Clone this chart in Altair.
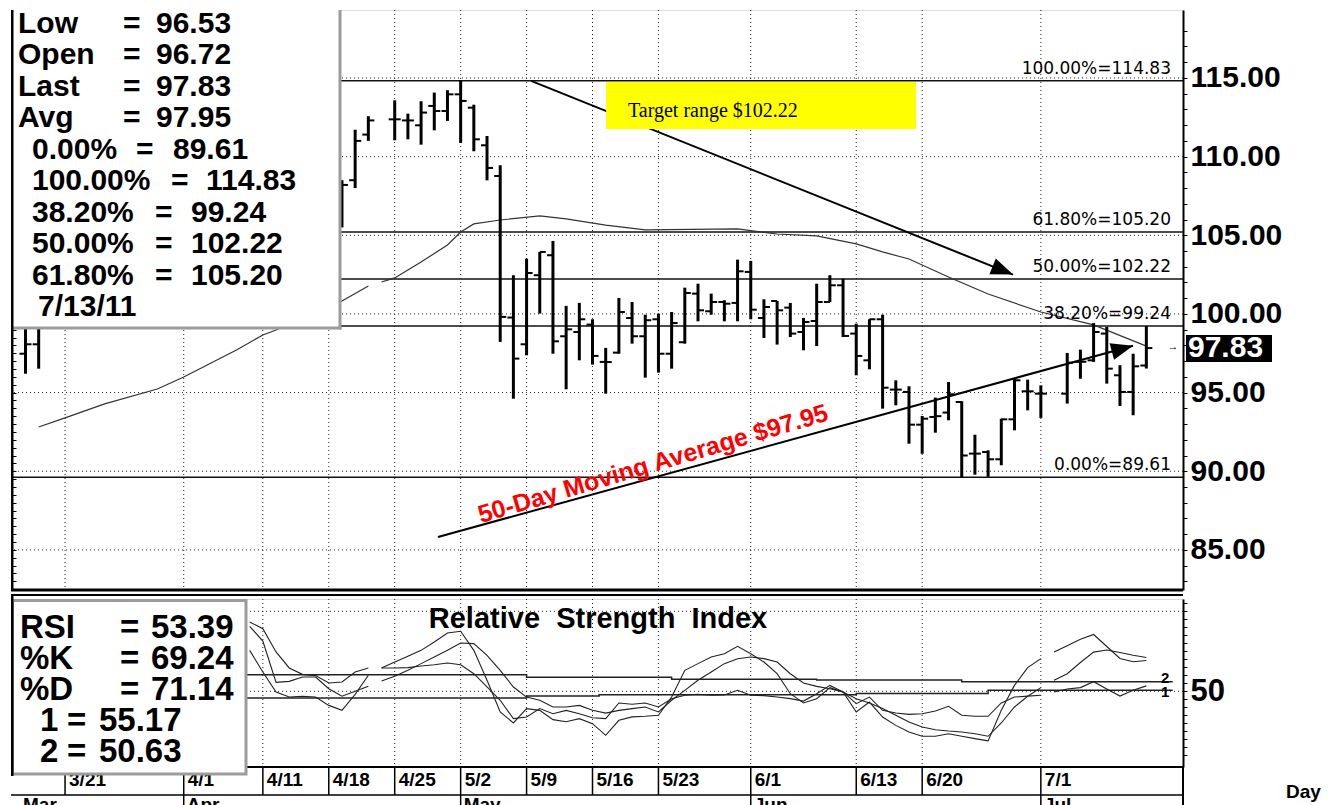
import altair as alt
import pandas as pd

FONT = "Liberation Sans, Arial, Helvetica, sans-serif"
SERIF = "Liberation Serif, Times New Roman, serif"

# ---------------- price bars (x = trading-day slot, 3/21 = 0) ----------------
bar_slot = [-3, -2, 21, 22, 23,
            25, 26, 27, 28, 29, 30, 31, 32, 33, 34, 35, 36, 37, 38, 39, 40, 41, 42, 43, 44,
            45, 46, 47, 48, 49, 50, 51, 52, 53, 54, 55, 56, 57, 58, 59, 60, 61, 62, 63, 64,
            65, 66, 67, 68, 69, 70, 71, 72, 73, 74,
            76, 77, 78, 79, 80, 81, 82]
bar_open = [97.47, 98.07, 107.0, 108.5, 111.4,
            112.37, 112.3, 111.99, 113.22, 112.90, 113.96, 113.11, 110.72, 108.77, 99.77, 98.07, 102.46, 103.73, 98.58, 98.85, 99.32, 96.95, 97.54, 99.74, 98.58,
            99.66, 97.47, 98.2, 101.29, 100.17, 100.76, 100.70, 102.67, 99.74, 100.82, 100.40, 98.85, 99.55, 100.76, 101.82, 98.75, 97.05, 99.66, 95.19, 95.04,
            92.96, 93.45, 93.73, 94.40, 91.12, 91.22, 90.76, 93.30, 95.08, 94.93,
            94.93, 96.95, 97.05, 98.75, 96.10, 95.04, 96.72]
bar_high = [99.6, 99.6, 108.5, 111.71, 112.57,
            113.58, 112.73, 113.52, 114.07, 114.22, 114.83, 113.30, 111.31, 109.45, 102.46, 103.51, 103.94, 104.64, 100.51, 100.70, 99.66, 97.84, 101.01, 100.76, 99.95,
            100.02, 100.12, 101.67, 101.92, 101.29, 100.87, 103.45, 103.37, 100.93, 100.82, 100.70, 99.74, 101.92, 102.46, 102.24, 99.38, 99.66, 99.95, 95.78, 95.40,
            93.51, 94.68, 95.67, 94.45, 92.32, 91.33, 93.34, 95.88, 95.82, 95.46,
            97.52, 97.73, 99.42, 99.17, 96.74, 97.47, 99.23]
bar_low = [96.2, 96.52, 105.5, 108.0, 111.0,
           111.04, 111.10, 110.76, 111.67, 112.27, 110.87, 110.34, 108.49, 98.22, 94.61, 97.37, 100.02, 97.47, 95.21, 97.05, 96.78, 94.93, 97.47, 98.11, 95.95,
           96.27, 96.52, 98.11, 99.53, 99.95, 99.53, 99.53, 99.66, 98.47, 98.05, 98.53, 97.69, 97.96, 100.76, 98.53, 96.10, 96.48, 93.98, 94.19, 91.75,
           91.11, 92.45, 93.24, 89.61, 89.78, 89.65, 90.38, 92.60, 93.87, 93.39,
           94.30, 95.88, 96.95, 95.57, 94.15, 93.56, 96.53]
bar_close = [98.07, 99.4, 108.2, 111.0, 112.3,
             112.37, 112.3, 112.80, 112.90, 113.96, 113.54, 111.10, 109.28, 99.81, 97.16, 102.60, 103.94, 98.26, 99.02, 99.66, 97.33, 96.94, 100.12, 98.58, 99.60,
             97.47, 99.42, 101.33, 100.23, 100.76, 100.65, 102.71, 100.27, 100.44, 100.23, 98.75, 99.49, 100.76, 101.82, 98.6, 97.33, 99.66, 95.31, 95.19, 92.96,
             93.34, 93.5, 94.89, 91.0, 91.12, 90.76, 93.30, 95.78, 95.08, 94.93,
             96.90, 96.96, 98.85, 96.52, 95.04, 96.67, 97.83]

# ---------------- 50-day moving average ----------------
ma_seg = [0] * 10 + [1] * 22
ma_slot = [-2, 0, 3, 7, 9, 13, 15, 16, 21, 23,
           24, 25, 27, 29, 30, 31, 33, 36, 38, 41, 44, 51, 54, 57, 60, 62, 64, 67, 70, 74, 78, 82]
ma_value = [92.81, 93.39, 94.28, 95.23, 95.99, 97.71, 98.66, 98.98, 100.82, 101.78,
            102.03, 102.29, 103.30, 104.38, 105.21, 105.72, 105.97, 106.23, 106.04, 105.65, 105.34,
            105.40, 105.08, 104.96, 104.45, 103.94, 103.49, 102.35, 101.27, 100.12, 99.30, 97.95]

# ---------------- Fibonacci levels ----------------
fib_label = ["100.00%=114.83", "61.80%=105.20", "50.00%=102.22", "38.20%=99.24", "0.00%=89.61"]
fib_level = [114.83, 105.20, 102.22, 99.24, 89.61]

# ---------------- annotations ----------------
arrow_id = ["a", "a", "b", "b"]
arrow_slot = [35.34, 71.89, 28.28, 80.99]
arrow_price = [114.81, 102.50, 85.82, 97.98]
target_box = dict(x1=[41.03], x2=[64.53], y1=[114.75], y2=[111.76])
target_text = dict(slot=[42.69], price=[112.52], label=["Target range $102.22"])
ma_text = dict(slot=[44.59], price=[90.46], label=["50-Day Moving Average $97.95"])

# ---------------- axes / labels ----------------
price_grid = [85, 90, 95, 100, 105, 110, 115]
date_slot = [0, 9, 15, 20, 25, 30, 35, 40, 45, 52, 60, 65, 74]
date_label = ["3/21", "4/1", "4/11", "4/18", "4/25", "5/2", "5/9", "5/16", "5/23", "6/1", "6/13", "6/20", "7/1"]
month_slot = [9, 30, 52, 74]
month_label = ["Apr", "May", "Jun", "Jul"]

info_label = ["Low", "Open", "Last", "Avg", "0.00%", "100.00%", "38.20%", "50.00%", "61.80%", "7/13/11"]
info_value = ["96.53", "96.72", "97.83", "97.95", "89.61", "114.83", "99.24", "102.22", "105.20", ""]

# ---------------- oscillators (RSI panel) ----------------
osc_s1 = [14, 15, 16, 17, 18, 19, 20, 21, 22, 23]
osc_s2 = [24, 25, 26, 27, 28, 29, 30, 31, 32, 33, 34, 35, 36, 37, 38, 39, 40, 41, 42, 43, 44, 45, 46, 47, 48, 49,
          50, 51, 52, 53, 54, 55, 56, 57, 58, 59, 60, 61, 62, 63, 64, 65, 66, 67, 68, 69, 70, 71, 72, 73, 74]
osc_s3 = [75, 76, 77, 78, 79, 80, 81, 82]
pk_s1 = [93.3, 89.1, 74.6, 64.6, 60.6, 59.8, 55.2, 55.8, 62.1, 64.6]
pd_s1 = [90.6, 81.4, 55.6, 56.2, 58.9, 58.9, 51.6, 46.9, 50.0, 53.1]
rsi_s1 = [75.6, 62.1, 49.6, 46.4, 46.9, 46.4, 41.2, 38.1, 48.1, 60.0]
pk_s2 = [64.6, 68.3, 71.9, 75.6, 80.8, 86.4, 87.5, 75.6, 56.9, 37.1, 30.2, 39.2, 38.1, 32.3, 31.0, 32.9, 29.8, 22.5, 31.9, 34.0,
         34.4, 35.0, 46.4, 63.1, 67.3, 71.4, 73.5, 78.1, 73.5, 68.3, 61.0, 48.5, 42.7, 45.4, 52.3, 49.6, 37.1, 43.3, 33.9, 28.7,
         24.6, 21.9, 21.9, 23.5, 21.9, 20.4, 19.0, 38.1, 53.7, 64.8, 70.4]
pd_s2 = [56.4, 59.4, 63.1, 67.3, 71.4, 75.6, 80.2, 79.8, 72.5, 63.1, 52.7, 46.4, 44.4, 40.2, 40.2, 41.2, 38.1, 36.4, 38.1, 39.2,
         40.2, 37.1, 44.4, 50.6, 56.9, 62.1, 67.3, 70.4, 71.4, 70.4, 68.3, 61.0, 55.2, 53.1, 51.6, 49.6, 45.4, 42.7, 39.2, 35.0,
         30.8, 27.7, 26.0, 25.2, 24.6, 23.5, 21.9, 30.2, 40.2, 46.9, 52.3]
rsi_s2 = [64.6, 64.6, 64.8, 65.8, 66.6, 67.7, 66.6, 61.0, 52.7, 44.4, 32.9, 33.9, 39.2, 36.0, 38.1, 36.0, 33.5, 32.9, 42.7, 41.9,
          42.7, 40.2, 45.4, 47.5, 48.1, 47.5, 47.7, 50.6, 47.5, 47.3, 46.4, 45.4, 43.9, 48.5, 53.7, 49.6, 42.3, 46.4, 38.1, 36.4,
          35.6, 36.0, 37.7, 40.6, 35.0, 34.4, 34.4, 42.7, 46.4, 47.0, 47.5]
pk_s3 = [74.6, 78.5, 82.5, 85.5, 78.0, 70.5, 68.5, 69.24]
pd_s3 = [56.9, 61.0, 68.0, 74.5, 75.8, 74.2, 72.5, 71.14]
rsi_s3 = [49.6, 51.4, 52.3, 56.0, 51.5, 47.0, 50.6, 53.39]

avg1_slot = [-4.0, 35, 46, 57, 68, 84.0]
avg1_value = [60.4, 58.8, 57.6, 57.0, 55.9, 55.9]
avg2_slot = [-4.0, 35, 40.5, 60, 70, 84.0]
avg2_value = [45.8, 47.1, 47.9, 48.6, 50.6, 50.6]

osc_label = ["RSI", "%K", "%D", "1", "2"]
osc_value = ["53.39", "69.24", "71.14", "55.17", "50.63"]

# ================= scales =================
xs = alt.Scale(domain=[-4.099, 84.78], nice=False, zero=False)
ys = alt.Scale(domain=[82.45, 119.32], nice=False, zero=False)
ys2 = alt.Scale(domain=[2.69, 107.69], nice=False, zero=False)


def X(f):
    return alt.X(f, type="quantitative", scale=xs, axis=None)


def YP(f, axis=None):
    return alt.Y(f, type="quantitative", scale=ys, axis=axis)


def YR(f, axis=None):
    return alt.Y(f, type="quantitative", scale=ys2, axis=axis)


one = pd.DataFrame({"k": [0]})


def ptext(s, x, y, size=30, weight="bold", align="left", baseline="alphabetic", color="black", font=FONT):
    return alt.Chart(one).mark_text(text=s, fontSize=size, fontWeight=weight, align=align,
                                    baseline=baseline, color=color, font=font).encode(
        x=alt.value(x), y=alt.value(y))


def prule(x, x2, y, y2, color="black", width=1.0):
    return alt.Chart(one).mark_rule(color=color, strokeWidth=width).encode(
        x=alt.value(x), x2=alt.value(x2), y=alt.value(y), y2=alt.value(y2))


right_axis = alt.Axis(orient="right", values=list(range(83, 119)),
                      labelExpr="datum.value % 5 == 0 ? format(datum.value, '.2f') : ''",
                      tickSize=4, labelPadding=3, labelFont=FONT, labelFontSize=30, labelFontWeight="bold",
                      labelColor="black", tickColor="black", domainColor="black", domainWidth=2,
                      grid=False, title=None, labelOverlap=False, labelBound=False, labelFlush=False)
left_axis = alt.Axis(orient="left", values=[83 + 0.5 * i for i in range(73)], labels=False, domain=False,
                     tickSize=5, offset=-5, tickColor="black", grid=False, title=None)
rsi_axis = alt.Axis(orient="right", values=list(range(10, 106, 5)),
                    labelExpr="datum.value == 50 ? '50' : ''", tickSize=4, labelPadding=3,
                    labelFont=FONT, labelFontSize=31, labelFontWeight="bold", labelColor="black",
                    tickColor="black", domainColor="black", domainWidth=2, grid=False, title=None,
                    labelOverlap=False, labelBound=False, labelFlush=False)

DOT = [1, 3]

# ================= top panel =================
bars = pd.DataFrame(dict(slot=bar_slot, open=bar_open, high=bar_high, low=bar_low, close=bar_close))
ma = pd.DataFrame(dict(seg=ma_seg, slot=ma_slot, ma=ma_value))
fib = pd.DataFrame(dict(label=fib_label, level=fib_level, slot=[83.87] * 5))
pgrid = pd.DataFrame(dict(p=price_grid))
dgrid = pd.DataFrame(dict(slot=date_slot, label=date_label))
mgrid = pd.DataFrame(dict(slot=month_slot, label=month_label))
arrows = pd.DataFrame(dict(arrow=arrow_id, slot=arrow_slot, price=arrow_price))

HEAD = "M0,0L-2.2,-0.85L-2.2,0.85Z"

top_layers = [
    alt.Chart(pgrid).mark_rule(color="#222", strokeDash=DOT, strokeWidth=1).encode(y=YP("p")),
    alt.Chart(dgrid).mark_rule(color="#222", strokeDash=DOT, strokeWidth=1).encode(x=X("slot")),
    alt.Chart(fib).mark_rule(color="#111", strokeWidth=1.5).encode(y=YP("level", left_axis)),
    alt.Chart(ma).mark_line(color="#333", strokeWidth=1.2).encode(x=X("slot"), y=YP("ma"), detail="seg:N"),
    alt.Chart(bars).mark_rule(color="black", strokeWidth=3).encode(x=X("slot"), y=YP("low", right_axis), y2="high"),
    alt.Chart(bars).mark_rule(color="black", strokeWidth=2, xOffset=-6, x2Offset=0).encode(
        x=X("slot"), x2="slot", y=YP("open")),
    alt.Chart(bars).mark_rule(color="black", strokeWidth=2, xOffset=0, x2Offset=6).encode(
        x=X("slot"), x2="slot", y=YP("close")),
    alt.Chart(arrows).mark_line(color="black", strokeWidth=2).encode(x=X("slot"), y=YP("price"), detail="arrow:N"),
    alt.Chart(arrows.iloc[[1]]).mark_point(shape=HEAD, filled=True, size=400, angle=21.9, color="black",
                                           opacity=1, strokeWidth=0).encode(x=X("slot"), y=YP("price")),
    alt.Chart(arrows.iloc[[3]]).mark_point(shape=HEAD, filled=True, size=400, angle=344.6, color="black",
                                           opacity=1, strokeWidth=0).encode(x=X("slot"), y=YP("price")),
    alt.Chart(pd.DataFrame(target_box)).mark_rect(color="#ffff00").encode(
        x=X("x1"), x2="x2", y=YP("y1"), y2="y2"),
    alt.Chart(pd.DataFrame(target_text)).mark_text(align="left", baseline="alphabetic", font=SERIF,
                                                  fontSize=20, color="black").encode(
        x=X("slot"), y=YP("price"), text="label"),
    alt.Chart(pd.DataFrame(ma_text)).mark_text(align="center", baseline="middle", font=FONT, fontSize=25,
                                              fontWeight="bold", color="#ff0000", angle=343.5).encode(
        x=X("slot"), y=YP("price"), text="label"),
    alt.Chart(fib).mark_text(align="right", baseline="alphabetic", dy=-7, font="DejaVu Sans", fontSize=17,
                             color="black").encode(x=X("slot"), y=YP("level"), text="label"),
    alt.Chart(pd.DataFrame(dict(p=[97.9]))).mark_text(text="\u2192", fontSize=11, color="black", font=FONT).encode(
        x=alt.value(1162), y=YP("p")),
    alt.Chart(pd.DataFrame(dict(a=[98.66], b=[96.95]))).mark_rect(color="black").encode(
        x=alt.value(1175), x2=alt.value(1261), y=YP("a"), y2="b"),
    alt.Chart(pd.DataFrame(dict(p=[97.83]))).mark_text(text="97.83", align="left", baseline="middle",
                                                       font=FONT, fontSize=30, fontWeight="bold",
                                                       color="white").encode(x=alt.value(1177), y=YP("p")),
    # info box
    alt.Chart(one).mark_rect(color="white").encode(x=alt.value(0), x2=alt.value(329),
                                                   y=alt.value(0), y2=alt.value(318)),
    prule(329, 329, 0, 319.5, color="#9c9c9c", width=3),
    prule(0, 330.5, 318, 318, color="#9c9c9c", width=3),
    prule(1.25, 1.25, 0, 580, color="black", width=2.5),
    prule(0, 1172, 580, 580, color="black", width=3),
]

row_y = [23, 54, 86, 117, 149, 180, 212, 243, 275, 306]
lab_x = [7, 7, 7, 7, 21, 21, 21, 21, 21, 27]
eq_x = [112, 112, 112, 112, 125, 160, 144, 144, 144, None]
val_x = [145, 145, 145, 145, 162, 195, 180, 180, 180, None]
for i in range(10):
    top_layers.append(ptext(info_label[i], lab_x[i], row_y[i]))
    if eq_x[i] is not None:
        top_layers.append(ptext("=", eq_x[i], row_y[i]))
        top_layers.append(ptext(info_value[i], val_x[i], row_y[i]))

top = alt.layer(*top_layers).resolve_axis(y="independent").properties(width=1172, height=580)

# ================= RSI panel =================
osc_rows = []
for name, segs in (("K", (pk_s1, pk_s2, pk_s3)), ("D", (pd_s1, pd_s2, pd_s3)), ("R", (rsi_s1, rsi_s2, rsi_s3))):
    for sn, (sl, vals) in enumerate(zip((osc_s1, osc_s2, osc_s3), segs)):
        for s, v in zip(sl, vals):
            osc_rows.append(dict(key=f"{name}{sn}", slot=s, v=v))
osc = pd.DataFrame(osc_rows)
avgs = pd.DataFrame(dict(line=["1"] * len(avg1_slot) + ["2"] * len(avg2_slot),
                         slot=avg1_slot + avg2_slot, v=avg1_value + avg2_value))

bot_layers = [
    alt.Chart(pd.DataFrame(dict(v=[100, 50]))).mark_rule(color="#222", strokeDash=DOT, strokeWidth=1).encode(
        y=YR("v", rsi_axis)),
    alt.Chart(dgrid).mark_rule(color="#222", strokeDash=DOT, strokeWidth=1).encode(x=X("slot")),
    alt.Chart(avgs).mark_line(interpolate="step-after", color="#222", strokeWidth=1.5).encode(
        x=X("slot"), y=YR("v"), detail="line:N"),
    alt.Chart(osc).mark_line(color="#222", strokeWidth=1.1).encode(x=X("slot"), y=YR("v"), detail="key:N"),
    ptext("Relative\u00a0 Strength\u00a0 Index", 587, 29, size=29, align="center"),
    alt.Chart(pd.DataFrame(dict(slot=[83.42, 83.42], v=[58.3, 49.6], t=["2", "1"]))).mark_text(
        font=FONT, fontSize=15, fontWeight="bold", color="black", baseline="middle").encode(
        x=X("slot"), y=YR("v"), text="t"),
    # frame lines
    prule(0, 1172, -4, -4, color="black", width=2),
    prule(0, 1172, 168, 168, color="black", width=2),
    prule(0, 1172, 196, 196, color="black", width=1.5),
    prule(1172, 1172, 168, 216, color="black", width=2),
    alt.Chart(dgrid).mark_rule(color="black", strokeWidth=1.5).encode(
        x=X("slot"), y=alt.value(168), y2=alt.value(196)),
    alt.Chart(dgrid).mark_text(align="left", baseline="alphabetic", dx=4, font=FONT, fontSize=19,
                               fontWeight="bold", color="black").encode(
        x=X("slot"), y=alt.value(187), text="label"),
    alt.Chart(mgrid).mark_rule(color="black", strokeWidth=1.5).encode(
        x=X("slot"), y=alt.value(196), y2=alt.value(216)),
    alt.Chart(mgrid).mark_text(align="left", baseline="alphabetic", dx=3, font=FONT, fontSize=19,
                               fontWeight="bold", color="black").encode(
        x=X("slot"), y=alt.value(212), text="label"),
    ptext("Mar", 12, 212, size=19),
    ptext("Day", 1275, 199, size=19),
    # box (drawn over the first date labels, as in the reference)
    alt.Chart(one).mark_rect(color="white", stroke="#9c9c9c", strokeWidth=3).encode(
        x=alt.value(1.5), x2=alt.value(235), y=alt.value(1.5), y2=alt.value(175)),
    prule(1.25, 1.25, -5, 177, color="black", width=2.5),
]

orow_y = [39, 70, 101, 132, 163]
olab_x = [9, 9, 9, 29, 29]
oeq_x = [109, 109, 109, 56, 56]
oval_x = [140, 140, 140, 88, 88]
for i in range(5):
    bot_layers.append(ptext(osc_label[i], olab_x[i], orow_y[i], size=33))
    bot_layers.append(ptext("=", oeq_x[i], orow_y[i], size=33))
    bot_layers.append(ptext(osc_value[i], oval_x[i], orow_y[i], size=33))

bottom = alt.layer(*bot_layers).resolve_axis(y="independent").properties(width=1172, height=168)

chart = alt.vconcat(top, bottom, spacing=9, bounds="flush").properties(
    padding={"left": 0, "top": 0, "right": 0, "bottom": 0}
).configure_view(strokeWidth=0).configure(background="white")

chart.save("out.html", embed_options={"renderer": "svg", "actions": False})
